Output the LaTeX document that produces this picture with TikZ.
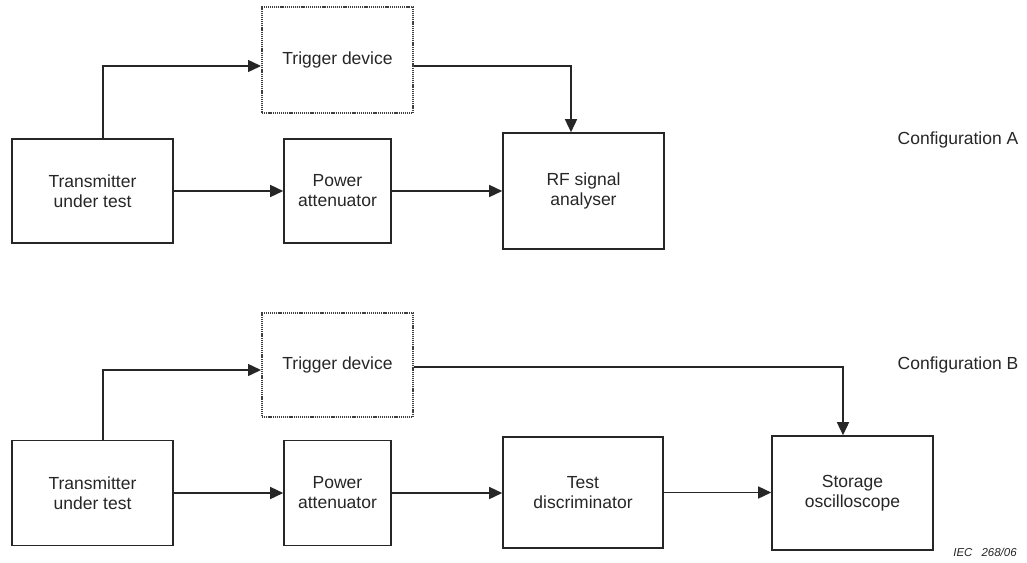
\documentclass[tikz,border=0pt]{standalone}
\usepackage{fontspec}
\setmainfont{Liberation Sans}
\usetikzlibrary{arrows.meta,calc}
\begin{document}
\begin{tikzpicture}[x=1pt,y=-1pt,
  box/.style={draw=black!85, line width=1.6pt, rectangle, inner sep=0pt, align=center,
    font=\fontsize{17.5}{20}\selectfont, text=black!85},
  dotbox/.style={box, dash pattern=on 1.2pt off 0.9pt, line width=2pt, draw=black!75},
  arr/.style={draw=black!85, line width=1.5pt, -{Triangle[length=13pt,width=12pt]}},
  lab/.style={font=\fontsize{17.5}{20}\selectfont, text=black!85, inner sep=0pt}]
\useasboundingbox (0,0) rectangle (1027,562);
% Configuration A
\node[box, minimum width=161pt, minimum height=104pt] (transA) at (92.5,191) {Transmitter\\under test};
\node[box, minimum width=107pt, minimum height=104pt] (powA) at (337.5,191) {Power\\attenuator};
\node[box, minimum width=161pt, minimum height=116pt] (rfA) at (583.5,191) {RF signal\\analyser};
\node[dotbox, minimum width=151pt, minimum height=106pt] (trigA) at (337.5,60) {Trigger device};
\node[lab] (cfgA) at (958,140) {Configuration A};
\draw[arr] (transA.east) -- (powA.west);
\draw[arr] (powA.east) -- (powA.east -| rfA.west);
\draw[arr] ([xshift=10.5pt]transA.north) |- ([yshift=-6pt]trigA.west);
\draw[arr] ([yshift=-6pt]trigA.east) -| ([xshift=-12.5pt]rfA.north);
% Configuration B
\node[box, minimum width=161pt, minimum height=105pt] (transB) at (92.5,493) {Transmitter\\under test};
\node[box, minimum width=107pt, minimum height=105pt] (powB) at (337.5,493) {Power\\attenuator};
\node[box, minimum width=160pt, minimum height=111pt] (discB) at (583,492.5) {Test\\discriminator};
\node[box, minimum width=161pt, minimum height=114pt] (scopeB) at (852.5,493) {Storage\\oscilloscope};
\node[dotbox, minimum width=151pt, minimum height=104pt] (trigB) at (337.5,365) {Trigger device};
\node[lab] (cfgB) at (958,365) {Configuration B};
\draw[arr] (transB.east) -- (powB.west);
\draw[arr] (powB.east) -- (powB.east -| discB.west);
\draw[arr] (discB.east) -- (discB.east -| scopeB.west);
\draw[arr] ([xshift=10.5pt]transB.north) |- ([yshift=-5pt]trigB.west);
\draw[arr] ([yshift=-2pt]trigB.east) -| ([xshift=-9.5pt]scopeB.north);
\node[font=\fontsize{11.5}{13}\selectfont\itshape, text=black!85, inner sep=0pt] (iec) at (985,552) {IEC\hspace{9pt}268/06};
\end{tikzpicture}
\end{document}
